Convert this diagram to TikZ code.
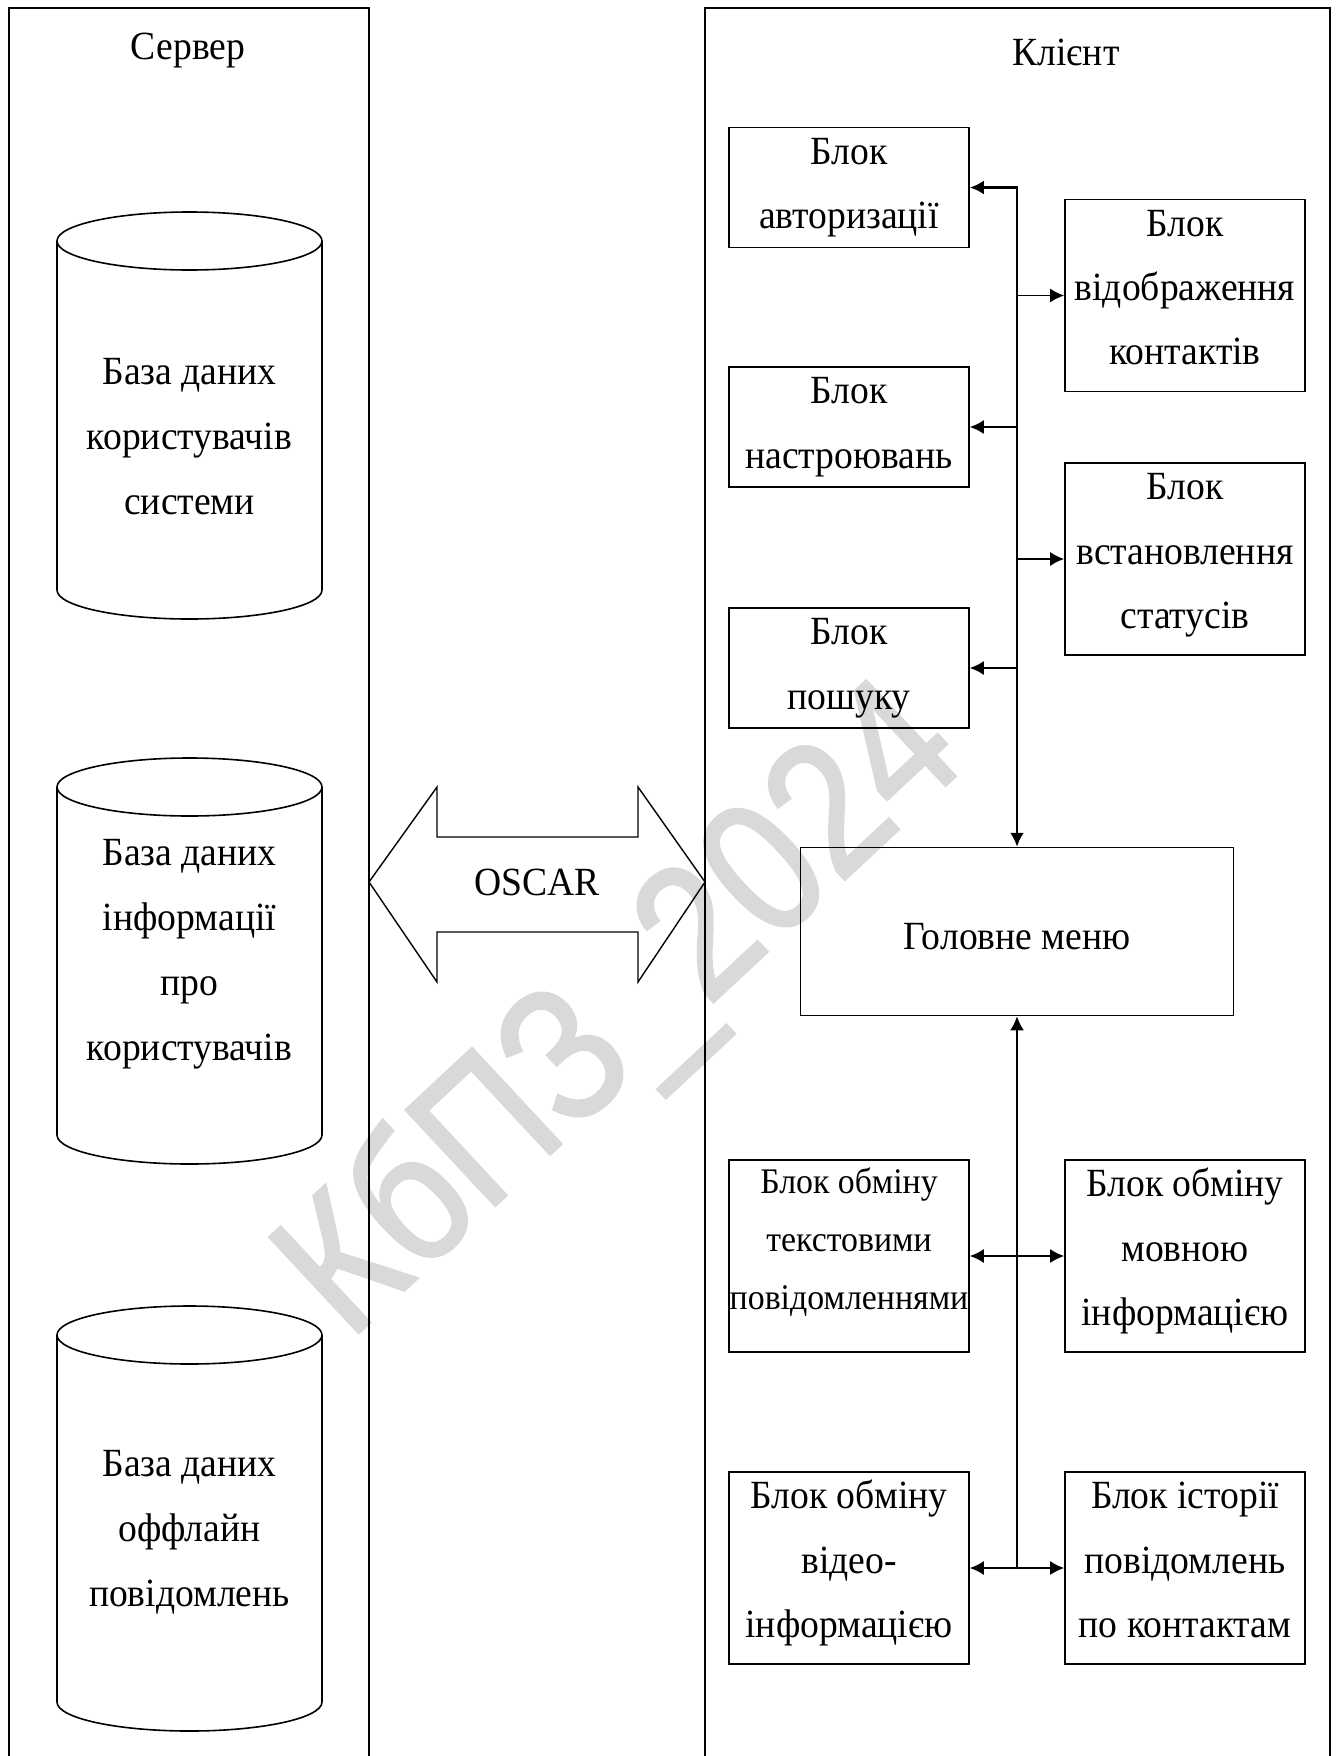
\documentclass[tikz,border=0pt]{standalone}
\usepackage{fontspec}
\setmainfont{Liberation Serif}[FakeStretch=0.94]
\newfontfamily\wmFont{Liberation Sans}[FakeStretch=0.85,FakeBold=1.5]
\usetikzlibrary{arrows.meta}

% text of a block, set from the top of the block
\newcommand\blockText[4][18.3pt]{\parbox[c][#3][t]{#2}{\centering\rule{0pt}{#1}#4}}

\tikzset{
  frameLine/.style={line width=0.7pt},
  titleText/.style={inner sep=0pt, font=\fontsize{20}{32.5}\selectfont},
  blockBox/.style={draw, line width=0.8pt, inner sep=0pt, font=\fontsize{20}{32.2}\selectfont},
  dbLine/.style={line width=0.8pt},
  dbText/.style={align=center, inner sep=0pt, font=\fontsize{20}{32.5}\selectfont},
  busLine/.style={line width=1.3pt},
  linkLine/.style={line width=0.9pt}
}

\begin{document}
\begin{tikzpicture}[x=0.5pt,y=-0.5pt,>={Latex[length=7pt,width=7pt]}]
  \useasboundingbox (0,0) rectangle (1338,1756);

  % watermark
  \node[rotate=43, text=black!15, inner sep=0pt,
    font=\wmFont\fontsize{95}{95}\selectfont] (mark) at (625,1015) {КбПЗ\_2024};

  % draw the server and client sides
  \draw[frameLine] (9,1756) -- (9,8) -- (369,8) -- (369,1756);
  \draw[frameLine] (705,1756) -- (705,8) -- (1330,8) -- (1330,1756);
  \node[titleText, anchor=base] (server) at (188,59) {Сервер};
  \node[titleText, anchor=base] (client) at (1066,65) {Клієнт};

  % draw the databases
  \def\cRx{132.5}
  \def\cRy{29}
  \foreach \cTop/\cBot/\cMid/\cName/\cText in {
      241/590/437/dbUsers/{База даних\\користувачів\\системи},
      787/1135/954.5/dbInfo/{База даних\\інформації\\про\\користувачів},
      1335/1702/1532.5/dbOffline/{База даних\\оффлайн\\повідомлень}}
  {
    \draw[dbLine] (57,\cTop) -- (57,\cBot) arc[start angle=180, end angle=0, x radius=\cRx, y radius=\cRy] -- (322,\cTop);
    \draw[dbLine] (189.5,\cTop) ellipse[x radius=\cRx, y radius=\cRy];
    \node[dbText] (\cName) at (189.5,\cMid) {\cText};
  }

  % draw the protocol arrow
  \draw[frameLine] (369,882) -- (437,787) -- (437,837) -- (638,837) -- (638,787)
    -- (705,882) -- (638,982) -- (638,932) -- (437,932) -- (437,982) -- cycle;
  \node[titleText] (oscar) at (537,882) {OSCAR};

  % draw the client blocks
  \node[blockBox] (auth) at (849,187.5) {\blockText{120pt}{60pt}{Блок\\авторизації}};
  \node[blockBox] (contacts) at (1185,295.5) {\blockText{120pt}{96pt}{Блок\\відображення\\контактів}};
  \node[blockBox] (settings) at (849,427) {\blockText{120pt}{60pt}{Блок\\настроювань}};
  \node[blockBox] (status) at (1185,559) {\blockText{120pt}{96pt}{Блок\\встановлення\\статусів}};
  \node[blockBox] (search) at (849,668) {\blockText{120pt}{60pt}{Блок\\пошуку}};
  \node[blockBox, minimum width=216.5pt, minimum height=84pt, text height=18pt] (menu) at (1017,931.6) {Головне меню};
  \node[blockBox, font=\fontsize{18}{29}\selectfont] (textMsg) at (849,1256) {\blockText[16.6pt]{120pt}{96pt}{Блок обміну\\текстовими\\повідомленнями}};
  \node[blockBox] (voice) at (1185,1256) {\blockText{120pt}{96pt}{Блок обміну\\мовною\\інформацією}};
  \node[blockBox] (video) at (849,1568) {\blockText{120pt}{96pt}{Блок обміну\\відео-\\інформацією}};
  \node[blockBox] (history) at (1185,1568) {\blockText{120pt}{96pt}{Блок історії\\повідомлень\\по контактам}};

  % draw the links to the main menu
  \draw[busLine,<->] (auth.east) -| (menu.north);
  \foreach \n in {contacts,status}
    \draw[linkLine,->] (menu.north |- \n.west) -- (\n.west);
  \foreach \n in {settings,search}
    \draw[linkLine,->] (menu.north |- \n.east) -- (\n.east);
  \draw[linkLine,->] (menu.south |- video.east) -- (menu.south);
  \draw[linkLine,<->] (textMsg.east) -- (voice.west);
  \draw[linkLine,<->] (video.east) -- (history.west);
\end{tikzpicture}
\end{document}
